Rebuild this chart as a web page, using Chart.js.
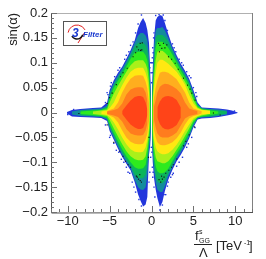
<!DOCTYPE html>
<html>
<head>
<meta charset="utf-8">
<style>html,body{margin:0;padding:0;background:#fff}canvas{display:block}</style>
<script src="https://cdn.jsdelivr.net/npm/chart.js@4"></script>
</head>
<body>
<canvas id="c" width="266" height="259"></canvas>
<script>
const xTicks = [-10, -5, 0, 5, 10];
const xMinor = [-12,-11,-9,-8,-7,-6,-4,-3,-2,-1,1,2,3,4,6,7,8,9,11,12];
const yTicks = [-0.2, -0.15, -0.1, -0.05, 0, 0.05, 0.1, 0.15, 0.2];
const yMinor = [-0.19,-0.18,-0.17,-0.16,-0.14,-0.13,-0.12,-0.11,-0.09,-0.08,-0.07,-0.06,-0.04,-0.03,-0.02,-0.01,0.01,0.02,0.03,0.04,0.06,0.07,0.08,0.09,0.11,0.12,0.13,0.14,0.16,0.17,0.18,0.19];

// contour columns for each lobe
const xRight = [.05,.15,.3,.5,.7,1,1.3,1.6,2,2.5,3,3.5,4,4.5,5,5.5,6,7,8,9,9.6,10.3];
const xLeft = [-10.1,-9.5,-8.5,-7,-6,-5.3,-5,-4.5,-4,-3.5,-3,-2.5,-2,-1.6,-1.3,-1,-.7,-.5,-.3,-.15,-.05];

// outermost band first
const bandColors = ["#2236dc","#148c9c","#0cb45a","#2eea1e","#aaf01a","#ffe812","#ffae1e","#ff7c1e","#ff4418"];

const rightHi = [
  [.04,.09,.15,.185,.192,.196,.194,.18,.158,.133,.115,.098,.084,.068,.045,.02,.01,.009,.008,.006,.004,0],
  [.02,.07,.13,.165,.17,.17,.172,.165,.15,.128,.11,.093,.079,.063,.04,.017,.009,.007,.006,.004,null,null],
  [.01,.055,.1,.15,.156,.156,.156,.152,.142,.123,.106,.089,.075,.059,.036,.015,.008,.006,.004,.002,null,null],
  [.006,.04,.09,.13,.142,.142,.142,.138,.13,.116,.1,.084,.07,.054,.032,.013,.007,.004,.002,null,null,null],
  [null,.03,.07,.105,.122,.124,.124,.12,.113,.102,.09,.076,.062,.046,.025,.01,.006,.002,null,null,null,null],
  [null,.02,.05,.08,.1,.106,.106,.103,.098,.09,.082,.07,.056,.035,.018,.008,.005,.004,null,null,null,null],
  [null,.01,.03,.05,.065,.08,.082,.082,.08,.074,.067,.054,.04,.02,.008,.005,.003,null,null,null,null,null],
  [null,null,.012,.025,.04,.052,.056,.058,.057,.053,.047,.038,.02,.008,.005,.003,null,null,null,null,null,null],
  [null,null,null,null,.01,.022,.029,.032,.033,.031,.025,.01,null,null,null,null,null,null,null,null,null,null]
];
const rightLo = [
  [-.06,-.1,-.132,-.155,-.172,-.19,-.18,-.158,-.135,-.115,-.098,-.085,-.07,-.052,-.03,-.014,-.012,-.011,-.009,-.006,-.004,-.001],
  [-.03,-.085,-.115,-.14,-.155,-.16,-.16,-.148,-.128,-.11,-.093,-.08,-.065,-.048,-.027,-.012,-.01,-.009,-.007,-.004,null,null],
  [-.015,-.07,-.1,-.125,-.138,-.142,-.142,-.136,-.122,-.105,-.089,-.076,-.061,-.044,-.024,-.011,-.009,-.008,-.005,-.002,null,null],
  [-.008,-.055,-.085,-.108,-.118,-.122,-.122,-.12,-.113,-.098,-.083,-.07,-.055,-.039,-.02,-.01,-.008,-.005,-.002,null,null,null],
  [null,-.04,-.07,-.09,-.098,-.1,-.102,-.102,-.098,-.088,-.075,-.062,-.047,-.032,-.016,-.009,-.006,-.002,null,null,null,null],
  [null,-.03,-.055,-.07,-.078,-.082,-.084,-.084,-.082,-.075,-.065,-.052,-.037,-.024,-.012,-.007,-.004,-.003,null,null,null,null],
  [null,-.015,-.035,-.05,-.06,-.065,-.066,-.066,-.064,-.06,-.052,-.04,-.024,-.012,-.007,-.005,-.002,null,null,null,null,null],
  [null,null,-.015,-.03,-.042,-.048,-.05,-.05,-.05,-.046,-.04,-.026,-.012,-.007,-.005,-.003,null,null,null,null,null,null],
  [null,null,null,null,-.01,-.023,-.03,-.033,-.034,-.031,-.025,-.01,null,null,null,null,null,null,null,null,null,null]
];
const leftHi = [
  [.001,.005,.007,.009,.01,.02,.045,.065,.08,.092,.108,.125,.145,.17,.182,.19,.18,.166,.14,.08,.03],
  [null,.002,.005,.007,.008,.014,.04,.06,.075,.088,.103,.12,.14,.155,.16,.16,.155,.145,.115,.06,.015],
  [null,null,.004,.005,.006,.011,.034,.055,.07,.083,.098,.115,.132,.14,.14,.14,.135,.125,.095,.045,.005],
  [null,null,.002,.004,.005,.009,.028,.049,.064,.077,.092,.108,.12,.122,.122,.122,.115,.105,.08,.03,null],
  [null,null,null,.002,.004,.006,.02,.038,.054,.068,.082,.095,.103,.105,.105,.105,.098,.088,.06,.015,null],
  [null,null,null,null,.002,.004,.009,.02,.038,.055,.07,.082,.088,.09,.09,.09,.08,.068,.04,null,null],
  [null,null,null,null,null,.003,.005,.008,.02,.04,.056,.068,.074,.075,.075,.074,.062,.048,.018,null,null],
  [null,null,null,null,null,.002,.003,.005,.008,.018,.036,.046,.05,.051,.051,.05,.04,.024,null,null,null],
  [null,null,null,null,null,null,null,null,null,.003,.014,.024,.031,.033,.033,.031,.02,.006,null,null,null]
];
const leftLo = [
  [-.002,-.008,-.009,-.01,-.011,-.017,-.037,-.055,-.073,-.089,-.103,-.116,-.14,-.165,-.178,-.189,-.185,-.17,-.085,-.066,-.03],
  [null,-.004,-.007,-.008,-.009,-.014,-.033,-.051,-.069,-.085,-.099,-.112,-.135,-.15,-.155,-.156,-.15,-.125,-.075,-.055,-.015],
  [null,null,-.005,-.007,-.008,-.012,-.028,-.046,-.064,-.08,-.094,-.107,-.125,-.132,-.132,-.132,-.125,-.1,-.065,-.04,-.005],
  [null,null,-.003,-.005,-.007,-.01,-.023,-.041,-.058,-.074,-.088,-.1,-.11,-.113,-.113,-.112,-.105,-.085,-.055,-.025,null],
  [null,null,null,-.003,-.005,-.007,-.015,-.032,-.048,-.064,-.078,-.088,-.094,-.096,-.096,-.095,-.088,-.07,-.042,-.01,null],
  [null,null,null,null,-.003,-.005,-.009,-.02,-.034,-.05,-.064,-.074,-.079,-.08,-.08,-.079,-.07,-.055,-.03,null,null],
  [null,null,null,null,null,-.004,-.006,-.01,-.02,-.036,-.05,-.059,-.063,-.064,-.064,-.063,-.054,-.042,-.017,null,null],
  [null,null,null,null,null,-.003,-.004,-.006,-.009,-.018,-.033,-.042,-.045,-.046,-.046,-.045,-.036,-.022,null,null,null],
  [null,null,null,null,null,null,null,null,null,-.003,-.014,-.024,-.03,-.033,-.033,-.031,-.018,-.005,null,null,null]
];

// black overflow cells seen along the edges
const blackX = [-1.75,-1.35,-1.55,-1.16,.84,1.43,1.83,1.23,2.03,2.83,3.82,4.81,5.2,8.2,7.4,5.13,3.02,2.07,1.3,1.1,1.5,-1.55,-1.35,-.36,3.82,-2.9,-3.7,-4.69,-5.29,-8.67,-5.29,-4.5,-3.1,-2.5,-1.7,1,1.6,.95,2.4,3.2,4.3,4.6,-1.9,-1.3,-1.1,-2.2,-3.4,-4.2,-5,4.5,4.1,2.6,2.4,1.2,1.7,.9,-3.8,-3.4,-2.8,-1.4,-1.8,-1.2,-.3];
const blackY = [.132,.139,.126,.126,.139,.139,.136,.129,.112,.099,.069,.039,.025,-.005,-.001,-.029,-.0935,-.116,-.134,-.14,-.13,-.134,-.137,-.09,-.067,.089,.072,.039,.018,-.002,-.025,-.06,-.098,-.11,-.13,.135,.13,.122,.107,.087,.055,.047,.12,.125,.14,.112,.08,.056,.03,-.045,-.058,-.105,-.11,-.128,-.122,-.135,-.078,-.088,-.105,-.125,-.128,-.14,-.05];

// loose blue cells outside the contours
const speckX = [1.1,1.4,.9,2.7,3.6,4.7,5.3,9.9,-10,-9.3,-1.2,-2.5,-3.2,-4,-4.8,-5.3,-5,-4.2,-3.3,-2.8,-2.1,-1.5,4.2,3.3,2.5,2,1.7,.05,.1,.12,.2,.1,.3,.25,.15,-.1,-.05,0,.02,-.2,.05,-.02,.1,.15,.2,.3,.4,-.1,-.2,-.3,1,.5,2.5,2.9,3.3,3.8,4.2,4.5,5,5.4,1.9,1.6,-1.6,-1.9,-2.2,-2.7,-3,-3.8,-4.4,-4.9,-5.2,-5.5,5.2,4.8,4.4,3.7,3,2.6,2.3,1.9,1.6,1.3,-5.5,-4.9,-4.5,-3.9,-3.6,-3,-2.6,-2.3,-1.9,-1.2];
const speckY = [.2,.196,.197,.13,.1,.07,.04,.003,-.004,.006,.196,.135,.107,.085,.06,.04,-.05,-.076,-.1,-.12,-.15,-.175,-.07,-.1,-.125,-.14,-.165,.06,.08,.1,.12,.11,.16,.15,.13,.1,.08,.06,.1,.09,-.08,-.07,-.11,-.13,-.12,-.15,-.17,-.09,-.12,-.14,-.196,.195,.138,.122,.107,.095,.082,.074,.05,.032,.165,.185,.178,.16,.142,.122,.115,.09,.072,.053,.036,.02,-.03,-.05,-.063,-.09,-.108,-.122,-.13,-.148,-.165,-.186,-.025,-.046,-.062,-.08,-.094,-.11,-.122,-.14,-.16,-.188];

const datasets = [];
function addBand(xs, hi, lo, color, order) {
  const toPts = ys => xs.map((x, i) => ({x: x, y: ys[i]}));
  datasets.push({type: "scatter", showLine: true, data: toPts(hi), fill: "+1", backgroundColor: color, borderWidth: 0, pointRadius: 0, order: order});
  datasets.push({type: "scatter", showLine: true, data: toPts(lo), fill: false, borderWidth: 0, pointRadius: 0, order: order});
}
bandColors.forEach((color, b) => {
  addBand(xRight, rightHi[b], rightLo[b], color, 12 - b);
  addBand(xLeft, leftHi[b], leftLo[b], color, 12 - b);
});
datasets.push({type: "scatter", data: speckX.map((x, i) => ({x: x, y: speckY[i]})), pointStyle: "rect", pointRadius: 1, backgroundColor: bandColors[0], borderWidth: 0, order: 20});
datasets.push({type: "scatter", data: blackX.map((x, i) => ({x: x, y: blackY[i]})), pointStyle: "rect", pointRadius: 0.8, backgroundColor: "#111", borderWidth: 0, order: 0});

const font = "Liberation Sans";

const rootFrame = {
  id: "rootFrame",
  afterDraw(chart) {
    const {ctx, chartArea: a, scales: {x, y}} = chart;
    ctx.save();
    ctx.lineWidth = 1;
    // frame
    ctx.strokeStyle = "#b0b0b0";
    ctx.beginPath(); ctx.moveTo(a.left, a.top + .5); ctx.lineTo(a.right, a.top + .5); ctx.stroke();
    ctx.strokeStyle = "#808080";
    ctx.beginPath(); ctx.moveTo(a.right + .5, a.top); ctx.lineTo(a.right + .5, a.bottom); ctx.stroke();
    ctx.strokeStyle = "#505050";
    ctx.beginPath(); ctx.moveTo(a.left + .5, a.top); ctx.lineTo(a.left + .5, a.bottom + 1); ctx.lineTo(a.right + 1, a.bottom + .5); ctx.stroke();
    // inward ticks
    ctx.strokeStyle = "#707070";
    xTicks.forEach(v => tickX(x.getPixelForValue(v), 6));
    xMinor.forEach(v => tickX(x.getPixelForValue(v), 3));
    yTicks.forEach(v => tickY(y.getPixelForValue(v), 6));
    yMinor.forEach(v => tickY(y.getPixelForValue(v), 3));
    function tickX(p, l) { ctx.beginPath(); ctx.moveTo(Math.round(p) + .5, a.bottom); ctx.lineTo(Math.round(p) + .5, a.bottom - l); ctx.stroke(); }
    function tickY(p, l) { ctx.beginPath(); ctx.moveTo(a.left, Math.round(p) + .5); ctx.lineTo(a.left + l, Math.round(p) + .5); ctx.stroke(); }

    // x axis title, a fraction
    ctx.fillStyle = "#222";
    ctx.textBaseline = "alphabetic";
    ctx.textAlign = "left";
    ctx.font = "13px '" + font + "'";
    ctx.fillText("f", 195, 240);
    ctx.font = "7px '" + font + "'";
    ctx.fillText("s", 199, 234);
    ctx.fillText("GG", 199, 243);
    ctx.fillRect(194, 244, 18, 1);
    ctx.font = "13px '" + font + "'";
    ctx.fillText("Λ", 199, 257);
    ctx.fillText("[TeV", 216, 250);
    ctx.font = "7px '" + font + "'";
    ctx.fillText("-1", 244, 245);
    ctx.font = "13px '" + font + "'";
    ctx.fillText("]", 249, 250);

    // logo box
    const bx = a.left + 12, by = a.top + 8;
    ctx.strokeStyle = "#555";
    ctx.fillStyle = "#fff";
    ctx.fillRect(bx, by, 43, 24);
    ctx.strokeRect(bx + .5, by + .5, 43, 24);
    ctx.strokeStyle = "#e02020";
    ctx.beginPath(); ctx.arc(bx + 14, by + 13, 9, Math.PI * 1.05, Math.PI * 1.85); ctx.stroke();
    ctx.beginPath(); ctx.moveTo(bx + 22, by + 11); ctx.lineTo(bx + 15, by + 22); ctx.stroke();
    ctx.strokeStyle = "#111";
    ctx.lineWidth = 1.5;
    ctx.beginPath(); ctx.arc(bx + 14, by + 12, 6, 0.3, 2.6); ctx.stroke();
    ctx.fillStyle = "#1a3ad0";
    ctx.font = "italic bold 12px '" + font + "'";
    ctx.fillText("3", bx + 9, by + 16);
    ctx.font = "italic bold 8px '" + font + "'";
    ctx.fillText("Filter", bx + 20, by + 16);
    ctx.restore();
  }
};

new Chart(document.getElementById("c"), {
  type: "scatter",
  data: {datasets: datasets},
  plugins: [rootFrame],
  options: {
    responsive: false,
    animation: false,
    layout: {padding: {top: 13, right: 14, left: 0, bottom: 0}},
    plugins: {legend: {display: false}, tooltip: {enabled: false}, filler: {propagate: false}},
    scales: {
      x: {
        type: "linear", min: -12, max: 12,
        grid: {display: false, drawTicks: false}, border: {display: false},
        afterBuildTicks: s => { s.ticks = xTicks.map(v => ({value: v})); },
        afterFit: s => { s.height = 47; },
        ticks: {autoSkip: false, maxRotation: 0, padding: 2, color: "#222", font: {family: font, size: 13},
          callback: v => String(v).replace("-", "−")}
      },
      y: {
        type: "linear", min: -0.2, max: 0.2,
        grid: {display: false, drawTicks: false}, border: {display: false},
        afterBuildTicks: s => { s.ticks = yTicks.map(v => ({value: v})); },
        afterFit: s => { s.width = 51; },
        title: {display: true, text: "sin(α)", align: "end", color: "#222", font: {family: font, size: 13}, padding: {top: 6, bottom: 0}},
        ticks: {autoSkip: false, padding: 3, color: "#222", font: {family: font, size: 13},
          callback: v => String(v).replace("-", "−")}
      }
    }
  }
});
</script>
</body>
</html>
